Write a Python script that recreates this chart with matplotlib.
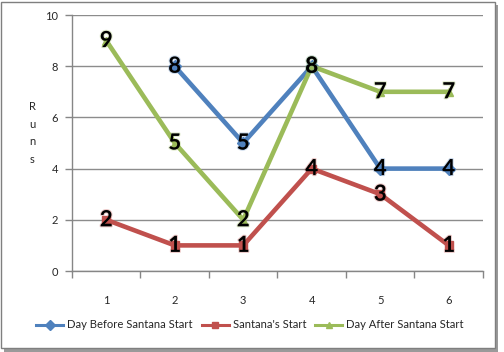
import numpy as np
import matplotlib
matplotlib.use("Agg")
import matplotlib.pyplot as plt
from matplotlib.patches import Rectangle
import matplotlib.patheffects as pe

categories = [1, 2, 3, 4, 5, 6]
day_before = [np.nan, 8, 5, 8, 4, 4]
santana_start = [2, 1, 1, 4, 3, 1]
day_after = [9, 5, 2, 8, 7, 7]
series_names = ["Day Before Santana Start", "Santana's Start", "Day After Santana Start"]
y_ticks = [0, 2, 4, 6, 8, 10]

colors = ["#4F81BD", "#C0504D", "#9BBB59"]
markers = ["D", "s", "^"]

plt.rcParams['font.family'] = ['Lato', 'DejaVu Sans']

W, H = 504, 352
fig = plt.figure(figsize=(W / 100, H / 100), dpi=100)
fig.patch.set_facecolor("white")

# outer frame with shadow
fig.add_artist(Rectangle((4 / W, 0 / H), 494 / W, 347 / H, transform=fig.transFigure,
                         facecolor="#9a9a9a", edgecolor="none", zorder=-2))
fig.add_artist(Rectangle((1 / W, 4 / H), 494 / W, 346 / H, transform=fig.transFigure,
                         facecolor="white", edgecolor="#7f7f7f", linewidth=1, zorder=-1))

ax = fig.add_axes([72 / W, 81 / H, 411 / W, 256 / H])
ax.set_facecolor("none")

data = [day_before, santana_start, day_after]
for vals, c, m, name in zip(data, colors, markers, series_names):
    ax.plot(categories, vals, color=c, linewidth=3.3, marker=m, markersize=6,
            markeredgecolor=c, markerfacecolor=c, label=name, zorder=3,
            solid_joinstyle="round")
for vals, c in zip(data, colors):
    for x, v in zip(categories, vals):
        if np.isnan(v):
            continue
        ax.text(x, v, f"{int(v)}", ha="center", va="center", fontsize=16,
                fontweight="bold", color="black", zorder=5,
                path_effects=[pe.withStroke(linewidth=1.5, foreground=c, alpha=0.3)])

ax.set_xlim(0.5, 6.5)
ax.set_ylim(0, 10)
ax.set_yticks(y_ticks)
ax.set_xticks(categories)
ax.set_xticks([0.5 + i for i in range(7)], minor=True)
ax.tick_params(axis="x", which="major", length=0, pad=17, labelsize=8, labelcolor="#262626")
ax.tick_params(axis="x", which="minor", length=5, color="#868686", width=1)
ax.tick_params(axis="y", length=5, color="#868686", width=1, labelsize=8,
               labelcolor="#262626", pad=5)
ax.grid(axis="y", color="#8c8c8c", linewidth=1)
ax.set_axisbelow(True)
for s in ["top", "right"]:
    ax.spines[s].set_visible(False)
for s in ["left", "bottom"]:
    ax.spines[s].set_color("#868686")
    ax.spines[s].set_linewidth(1)

fig.text(32 / W, 1 - 133 / H, "R\nu\nn\ns", ha="center", va="center", fontsize=8,
         color="#262626", linespacing=1.75)

leg = fig.legend(loc="center", bbox_to_anchor=(250 / W, 1 - 325 / H), ncol=3,
                 frameon=False, fontsize=8.1, handlelength=2.4, handletextpad=0.35,
                 columnspacing=0.8, labelcolor="#262626")
for h in leg.legend_handles:
    h.set_linewidth(2.2)
    h.set_markersize(5)

fig.savefig("out.png", dpi=100)
